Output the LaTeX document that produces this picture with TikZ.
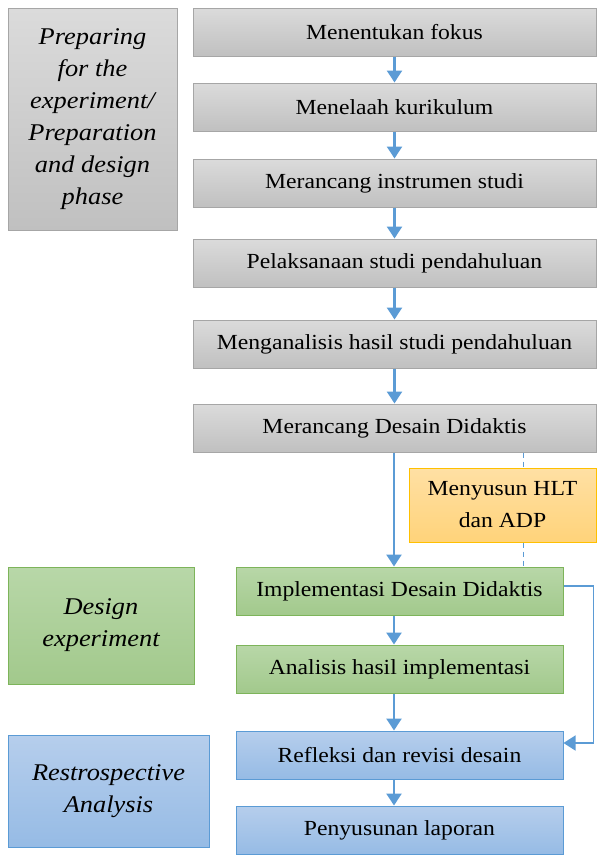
\documentclass[tikz,border=0pt]{standalone}
\usepackage{fontspec}
\setmainfont{Liberation Serif}[FakeStretch=1.1]
\usetikzlibrary{positioning,arrows.meta}
\definecolor{graytop}{RGB}{219,219,219}
\definecolor{graybot}{RGB}{192,192,192}
\definecolor{grayline}{RGB}{166,166,166}
\definecolor{greentop}{RGB}{184,215,168}
\definecolor{greenbot}{RGB}{162,201,140}
\definecolor{greenline}{RGB}{125,180,90}
\definecolor{bluetop}{RGB}{182,206,236}
\definecolor{bluebot}{RGB}{150,187,229}
\definecolor{blueline}{RGB}{91,155,213}
\definecolor{orangetop}{RGB}{255,224,164}
\definecolor{orangebot}{RGB}{255,211,122}
\definecolor{orangeline}{RGB}{255,192,0}
\definecolor{arrowblue}{RGB}{91,155,213}

\begin{document}
\begin{tikzpicture}[x=1pt,y=-1pt,
  stepbox/.style={minimum height=48pt, inner sep=0pt, line width=1pt,
    font=\fontsize{21.5}{25}\selectfont},
  graystep/.style={stepbox, draw=grayline, top color=graytop, bottom color=graybot, minimum width=403pt},
  greenstep/.style={stepbox, draw=greenline, top color=greentop, bottom color=greenbot, minimum width=327pt},
  bluestep/.style={stepbox, draw=blueline, top color=bluetop, bottom color=bluebot, minimum width=327pt},
  phasebox/.style={inner sep=0pt, line width=1pt, align=center,
    font=\fontsize{24}{32}\selectfont\itshape},
  flow/.style={-{Triangle[width=15pt,length=12pt]}, line width=2.5pt, arrowblue},
  back/.style={-{Triangle[width=15pt,length=12pt]}, line width=1.5pt, arrowblue},
  link/.style={arrowblue, line width=1pt, dash pattern=on 5pt off 4pt}]
\useasboundingbox (0,0) rectangle (597,855);

% phases
\node[phasebox, draw=grayline, top color=graytop, bottom color=graybot,
  minimum width=169pt, minimum height=222pt] (prep) at (92.5,119)
  {Preparing\\for the\\experiment/\\Preparation\\and design\\phase};
\node[phasebox, draw=greenline, top color=greentop, bottom color=greenbot,
  minimum width=186pt, minimum height=117pt] (design) at (101,625.5)
  {Design\\experiment};
\node[phasebox, draw=blueline, top color=bluetop, bottom color=bluebot,
  minimum width=201pt, minimum height=112pt] (retro) at (108.5,791)
  {Restrospective\\Analysis};

% steps
\node[graystep] (fokus) at (394.5,32) {Menentukan fokus};
\node[graystep] (kurikulum) at (394.5,107) {Menelaah kurikulum};
\node[graystep] (instrumen) at (394.5,183) {Merancang instrumen studi};
\node[graystep] (pelaksanaan) at (394.5,263) {Pelaksanaan studi pendahuluan};
\node[graystep] (analisis) at (394.5,344) {Menganalisis hasil studi pendahuluan};
\node[graystep] (desain) at (394.5,428) {Merancang Desain Didaktis};
\node[stepbox, draw=orangeline, top color=orangetop, bottom color=orangebot,
  minimum width=187pt, minimum height=74pt, align=center,
  font=\fontsize{21.5}{32}\selectfont] (hlt) at (502.5,505)
  {Menyusun HLT\\dan ADP};
\node[greenstep] (implementasi) at (399.5,591) {Implementasi Desain Didaktis};
\node[greenstep] (hasil) at (399.5,669) {Analisis hasil implementasi};
\node[bluestep] (refleksi) at (399.5,755) {Refleksi dan revisi desain};
\node[bluestep] (laporan) at (399.5,830) {Penyusunan laporan};

\coordinate (axis) at (394,0);
\coordinate (dash) at (523,0);

% arrows
\draw[flow] (fokus) -- (kurikulum);
\draw[flow] (kurikulum) -- (instrumen);
\draw[flow] (instrumen) -- (pelaksanaan);
\draw[flow] (pelaksanaan) -- (analisis);
\draw[flow] (analisis) -- (desain);
\draw[flow] (desain.south -| axis) -- (implementasi.north -| axis);
\draw[flow] (implementasi.south -| axis) -- (hasil.north -| axis);
\draw[flow] (hasil.south -| axis) -- (refleksi.north -| axis);
\draw[flow] (refleksi.south -| axis) -- (laporan.north -| axis);
\draw[back] ([yshift=5pt]implementasi.east) -- ++(30,0) |- ([yshift=12pt]refleksi.east);

% dashed link to HLT
\draw[link] (desain.south -| dash) -- (hlt.north -| dash);
\draw[link] (hlt.south -| dash) -- (implementasi.north -| dash);
\end{tikzpicture}
\end{document}
